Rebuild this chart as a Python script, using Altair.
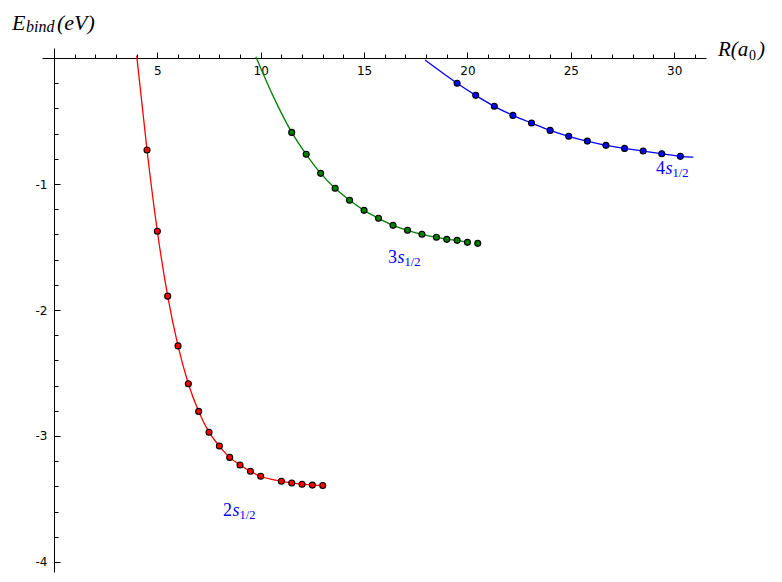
import altair as alt
import pandas as pd

# ---------------- data ----------------
series_names = ["2s", "3s", "4s"]
series_colors = ["#ff0000", "#008000", "#0000ff"]

# 2s (red) data points
red_x = [4.5, 5.0, 5.5, 6.0, 6.5, 7.0, 7.5, 8.0, 8.5, 9.0, 9.5, 10.0, 11.0, 11.5, 12.0, 12.5, 13.0]
red_y = [-0.73, -1.375, -1.89, -2.285, -2.585, -2.805, -2.97, -3.08, -3.17, -3.23, -3.28,
         -3.32, -3.36, -3.373, -3.383, -3.39, -3.393]
# 2s curve
red_curve_x = [4.0] + red_x
red_curve_y = [0.02] + red_y

# 3s (green) data points
green_x = [11.5, 12.2, 12.9, 13.6, 14.3, 15.0, 15.7, 16.4, 17.1, 17.8, 18.5, 19.0, 19.5, 20.0, 20.5]
green_y = [-0.59, -0.764, -0.915, -1.034, -1.129, -1.209, -1.272, -1.328, -1.367, -1.399,
           -1.423, -1.439, -1.447, -1.463, -1.471]
green_curve_x = [9.77, 10.58] + green_x[:-1]
green_curve_y = [0.01, -0.294] + green_y[:-1]

# 4s (blue) data points
blue_x = [19.5, 20.4, 21.3, 22.2, 23.1, 24.0, 24.9, 25.8, 26.7, 27.6, 28.5, 29.4, 30.3]
blue_y = [-0.2, -0.296, -0.383, -0.455, -0.516, -0.574, -0.621, -0.659, -0.693, -0.717,
          -0.738, -0.759, -0.78]
blue_curve_x = [17.95] + blue_x + [30.93]
blue_curve_y = [-0.016] + blue_y + [-0.786]

# state labels
label_digits = ["2", "3", "4"]
label_x = [8.18, 16.16, 29.12]
label_y = [-3.633, -1.627, -0.92]

x_ticks = list(range(1, 32))
y_ticks = [round(-0.2 * k, 1) for k in range(1, 21)]

# ---------------- tables ----------------
points_df = pd.concat([
    pd.DataFrame({"x": red_x, "y": red_y, "series": "2s"}),
    pd.DataFrame({"x": green_x, "y": green_y, "series": "3s"}),
    pd.DataFrame({"x": blue_x, "y": blue_y, "series": "4s"}),
], ignore_index=True)

lines_df = pd.concat([
    pd.DataFrame({"x": red_curve_x, "y": red_curve_y, "series": "2s"}),
    pd.DataFrame({"x": green_curve_x, "y": green_curve_y, "series": "3s"}),
    pd.DataFrame({"x": blue_curve_x, "y": blue_curve_y, "series": "4s"}),
], ignore_index=True)

labels_df = pd.DataFrame({"x": label_x, "y": label_y, "digit": label_digits})

# ---------------- scales & axes ----------------
W, H = 664, 524
xscale = alt.Scale(domain=[-0.58, 31.54], nice=False, zero=False)
yscale = alt.Scale(domain=[-4.08, 0.08], nice=False, zero=False)
cscale = alt.Scale(domain=series_names, range=series_colors)

SANS = "DejaVu Sans, Verdana, sans-serif"
SERIF = "Liberation Serif, Times New Roman, DejaVu Serif, serif"

common_axis = dict(
    grid=False, title=None, domainColor="black", tickColor="black",
    labelColor="black", labelFont=SANS, labelFontSize=12,
    labelFlush=False, labelOverlap=False, domainWidth=1, tickWidth=1,
)

xaxis = alt.Axis(
    orient="top", offset=-10, values=x_ticks,
    tickSize={"condition": {"test": "datum.value % 5 === 0", "value": 6}, "value": 4},
    labelExpr="datum.value % 5 === 0 ? datum.label : ''",
    labelBaseline="top", labelPadding=-13, labelAlign="center",
    **common_axis,
)
yaxis = alt.Axis(
    orient="right", offset=-(W - 12), values=y_ticks,
    tickSize={"condition": {"test": "abs(datum.value - round(datum.value)) < 0.000001", "value": 6}, "value": 4},
    labelExpr="abs(datum.value - round(datum.value)) < 0.000001 ? ('' + round(datum.value)) : ''",
    labelAlign="right", labelBaseline="middle", labelPadding=-13,
    **common_axis,
)

X = alt.X("x:Q", scale=xscale, axis=xaxis)
Y = alt.Y("y:Q", scale=yscale, axis=yaxis)

lines = alt.Chart(lines_df).mark_line(strokeWidth=1.3, interpolate="monotone").encode(
    x=X, y=Y,
    color=alt.Color("series:N", scale=cscale, legend=None),
    detail="series:N",
)

points = alt.Chart(points_df).mark_circle(size=36, stroke="black", strokeWidth=1.1, opacity=1).encode(
    x=X, y=Y,
    fill=alt.Fill("series:N", scale=cscale, legend=None),
)

LBL = "#0000ff"

lab_digit = alt.Chart(labels_df).mark_text(
    font=SERIF, fontSize=18, align="left", baseline="alphabetic", color=LBL
).encode(x=X, y=Y, text="digit:N")
lab_s = alt.Chart(labels_df).mark_text(
    text="s", font=SERIF, fontStyle="italic", fontSize=18, align="left",
    baseline="alphabetic", color=LBL, dx=9.5
).encode(x=X, y=Y)
lab_sub = alt.Chart(labels_df).mark_text(
    text="1/2", font=SERIF, fontSize=12.5, align="left",
    baseline="alphabetic", color=LBL, dx=16.5, dy=3
).encode(x=X, y=Y)


def free_text(txt, px, py, size, italic=True):
    return alt.Chart(alt.InlineData(values=[{"k": 1}])).mark_text(
        text=txt, font=SERIF, fontSize=size,
        fontStyle="italic" if italic else "normal",
        align="left", baseline="alphabetic", color="black",
    ).encode(x=alt.value(px), y=alt.value(py))


titles = [
    free_text("E", -30, -18, 22),
    free_text("bind", -16, -16, 16),
    free_text("(eV)", 15, -18, 22),
    free_text("R(a", 676, 8, 21),
    free_text("0", 707, 12, 14, italic=False),
    free_text(")", 716, 8, 21),
]

chart = alt.layer(lines, points, lab_digit, lab_s, lab_sub, *titles).properties(
    width=W, height=H,
    autosize=alt.AutoSizeParams(type="none"),
    padding={"left": 34, "top": 40, "right": 66, "bottom": 4},
    background="white",
).configure_view(stroke=None)

chart.save("out.html", embed_options={"renderer": "svg", "actions": False})
